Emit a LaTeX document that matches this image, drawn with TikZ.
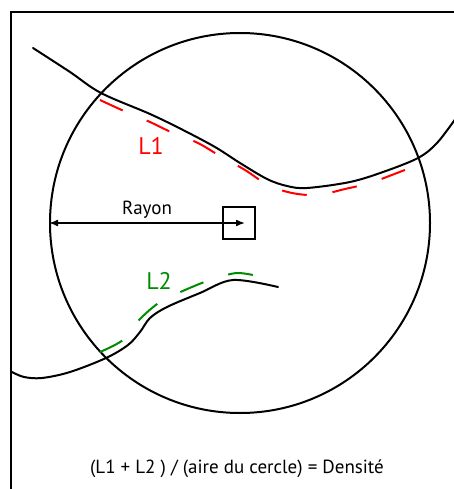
\documentclass[tikz,border=0pt]{standalone}
\usepackage{fontspec}
\setmainfont{PT Sans}
\usepackage{tikz}
\usetikzlibrary{arrows.meta,positioning}

\begin{document}
\begin{tikzpicture}[
  x=1pt, y=-1pt,
  every node/.style={inner sep=0pt},
  frame/.style={line width=2pt},
  trace/.style={line width=2pt, line cap=round},
  redpart/.style={draw=red, line width=2pt, dash pattern=on 25pt off 26pt},
  greenpart/.style={draw=green!55!black, line width=2pt, dash pattern=on 25pt off 26pt},
  label/.style={font=\fontsize{24}{26}\selectfont},
  edge/.style={{Latex[length=9pt,width=7pt]}-{Latex[length=9pt,width=7pt]}, line width=1.5pt}
]
\useasboundingbox (0,0) rectangle (454,489);
% cadre
\draw[frame] (11,489) -- (11,12) -- (454,12);
% cercle et carre
\node[draw, circle, line width=2pt, minimum size=380pt] (cercle) at (240,223) {};
\node[draw, line width=2pt, minimum size=32pt] (carre) at (239,223) {};
\coordinate (pointe) at (245,223);
\draw[edge] (cercle.west) -- node[above=4pt, font=\fontsize{19}{21}\selectfont] (rayon) {Rayon} (pointe);
% lignes
\draw[trace] plot[smooth, tension=0.55] coordinates {(33,48) (70,72) (101,93) (150,114) (183,130) (215,147) (240,163) (267,179) (287,186) (307,188) (350,182) (383,172) (418,158) (437,143) (456,118)};
\draw[redpart] plot[smooth, tension=0.55] coordinates {(100,100) (124,111) (150,122) (173,133) (198,143) (220,156) (245,170) (268,185) (292,193) (318,195) (345,189) (370,183) (397,173) (415,166)};
\draw[trace] plot[smooth, tension=0.55] coordinates {(12,372) (24,377) (42,378) (70,372) (106,358) (128,345) (140,332) (150,318) (167,307) (200,293) (233,280) (278,287)};
\draw[greenpart] plot[smooth, tension=0.5] coordinates {(100,352) (123,340) (140,319) (160,302) (185,290) (210,280) (237,273) (262,277)};
\node[label, text=red] (L1) at (151,146) {L1};
\node[label, text=green!55!black] (L2) at (159,281) {L2};
\node[font=\fontsize{19}{21}\selectfont] (formule) at (237,469) {(L1 + L2 ) / (aire du cercle) = Densité};
\end{tikzpicture}
\end{document}
